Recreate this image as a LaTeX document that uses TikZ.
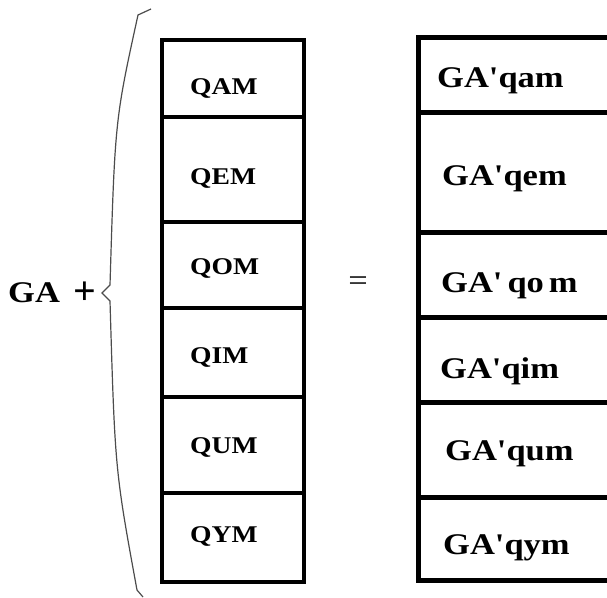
\documentclass[tikz,border=0pt]{standalone}
\usepackage{fontspec}
\setmainfont{Liberation Serif}
\newfontfamily\widefont[FakeStretch=1.15]{Liberation Serif}
\begin{document}
\begin{tikzpicture}[x=1pt,y=-1pt,
  frame/.style={line width=4.5pt, line cap=rect},
  lbl/.style={inner sep=0pt, anchor=base west, font=\widefont\bfseries\fontsize{24}{24}\selectfont},
  rlbl/.style={inner sep=0pt, anchor=base west, font=\widefont\bfseries\fontsize{30}{30}\selectfont},
  brace/.style={line width=1.2pt, draw=black!70}]
\useasboundingbox (0,0) rectangle (607,597);
% left column
\draw[frame] (162,40) rectangle (304,582);
\foreach \y in {117,222,308,397,493} \draw[frame] (162,\y) -- (304,\y);
\node[lbl] (qam) at (190,94) {QAM};
\node[lbl] (qem) at (190,184) {QEM};
\node[lbl] (qom) at (190,274) {QOM};
\node[lbl] (qim) at (190,363) {QIM};
\node[lbl] (qum) at (190,453) {QUM};
\node[lbl] (qym) at (190,542) {QYM};
% right column
\draw[line width=5pt] (418,35) -- (418,582);
\foreach \y in {37,112,232,317,402,497,580} \draw[line width=5pt] (416,\y) -- (607,\y);
\node[rlbl] (gqam) at (437,87) {GA'qam};
\node[rlbl] (gqem) at (442,185) {GA'qem};
\node[rlbl] (gqom) at (441,292) {GA'\,qo\,m};
\node[rlbl] (gqim) at (440,378) {GA'qim};
\node[rlbl] (gqum) at (445,460) {GA'qum};
\node[rlbl] (gqym) at (443,554) {GA'qym};
% left text and brace
\node[rlbl] (ga) at (8,302) {GA};
\node[inner sep=0pt, font=\bfseries\fontsize{40}{40}\selectfont] (plus) at (84.5,293) {+};
\node[inner sep=0pt, font=\widefont\fontsize{30}{30}\selectfont] (eq) at (358,284) {=};
\draw[brace] (151,9) -- (138,15) .. controls (115,120) .. (110,285) -- (102,293) -- (110,301) .. controls (115,470) .. (137,590) -- (143,597);
\end{tikzpicture}
\end{document}
